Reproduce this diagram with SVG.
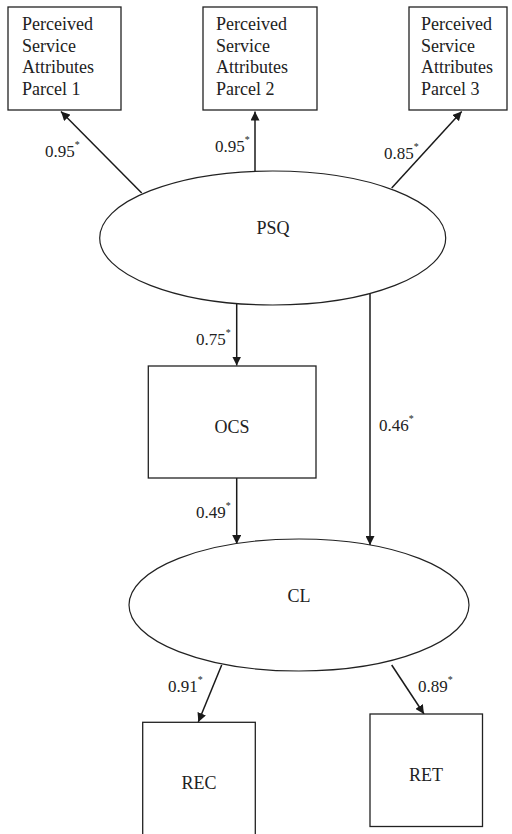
<svg xmlns="http://www.w3.org/2000/svg" width="512" height="834" viewBox="0 0 512 834">
<style>
.box{fill:#fff;stroke:#222;stroke-width:1.3}
.ell{fill:#fff;stroke:#222;stroke-width:1.2}
.t{font-family:"Liberation Serif","Times New Roman",serif;font-size:18px;fill:#222}
.c{text-anchor:middle}
.lbl{font-family:"Liberation Serif","Times New Roman",serif;font-size:17px;fill:#222}
.ast{font-size:10px}
.edge{stroke:#1a1a1a;stroke-width:1.5;fill:none;marker-end:url(#ah)}
</style>
<defs>
<marker id="ah" viewBox="0 0 10 10" refX="10" refY="5" markerWidth="9" markerHeight="9" markerUnits="userSpaceOnUse" orient="auto">
<path d="M0,0 L10,5 L0,10 z" fill="#1a1a1a"/>
</marker>
</defs>
<rect width="512" height="834" fill="#fff"/>
<g id="connectors">
<line class="edge" x1="141.7" y1="193" x2="61" y2="111.5"/>
<line class="edge" x1="255" y1="172" x2="255" y2="111.5"/>
<line class="edge" x1="391.7" y1="188" x2="461.7" y2="111.5"/>
<line class="edge" x1="236.7" y1="304" x2="236.7" y2="365.5"/>
<line class="edge" x1="370" y1="293" x2="370" y2="545"/>
<line class="edge" x1="236.7" y1="478" x2="236.7" y2="544"/>
<line class="edge" x1="221.7" y1="665" x2="198.3" y2="722"/>
<line class="edge" x1="391.7" y1="665" x2="424" y2="714"/>
<text class="lbl" x="45" y="157">0.95<tspan class="ast" dy="-9">*</tspan></text>
<text class="lbl" x="215" y="151.7">0.95<tspan class="ast" dy="-9">*</tspan></text>
<text class="lbl" x="384" y="159">0.85<tspan class="ast" dy="-9">*</tspan></text>
<text class="lbl" x="196" y="345">0.75<tspan class="ast" dy="-9">*</tspan></text>
<text class="lbl" x="379" y="431">0.46<tspan class="ast" dy="-9">*</tspan></text>
<text class="lbl" x="196" y="518">0.49<tspan class="ast" dy="-9">*</tspan></text>
<text class="lbl" x="168" y="692">0.91<tspan class="ast" dy="-9">*</tspan></text>
<text class="lbl" x="418" y="692">0.89<tspan class="ast" dy="-9">*</tspan></text>
</g>
<g id="psa1">
<rect class="box" x="8" y="7" width="113" height="103"/>
<text class="t" x="22" y="30">Perceived</text>
<text class="t" x="22" y="51.7">Service</text>
<text class="t" x="22" y="73.3">Attributes</text>
<text class="t" x="22" y="95">Parcel 1</text>
</g>
<g id="psa2">
<rect class="box" x="203" y="7" width="114" height="103"/>
<text class="t" x="216" y="30">Perceived</text>
<text class="t" x="216" y="51.7">Service</text>
<text class="t" x="216" y="73.3">Attributes</text>
<text class="t" x="216" y="95">Parcel 2</text>
</g>
<g id="psa3">
<rect class="box" x="409" y="7" width="98" height="103"/>
<text class="t" x="421" y="30">Perceived</text>
<text class="t" x="421" y="51.7">Service</text>
<text class="t" x="421" y="73.3">Attributes</text>
<text class="t" x="421" y="95">Parcel 3</text>
</g>
<g id="psq">
<ellipse class="ell" cx="272.7" cy="238" rx="173" ry="67"/>
<text class="t c" x="273" y="234">PSQ</text>
</g>
<g id="ocs">
<rect class="box" x="148.3" y="366" width="167.7" height="112"/>
<text class="t c" x="232" y="433">OCS</text>
</g>
<g id="cl">
<ellipse class="ell" cx="299" cy="605" rx="170" ry="66"/>
<text class="t c" x="299" y="602">CL</text>
</g>
<g id="rec">
<rect class="box" x="142.7" y="722.3" width="112.6" height="120"/>
<text class="t c" x="199" y="789">REC</text>
</g>
<g id="ret">
<rect class="box" x="370" y="714" width="112.5" height="112.5"/>
<text class="t c" x="426" y="781">RET</text>
</g>
</svg>
